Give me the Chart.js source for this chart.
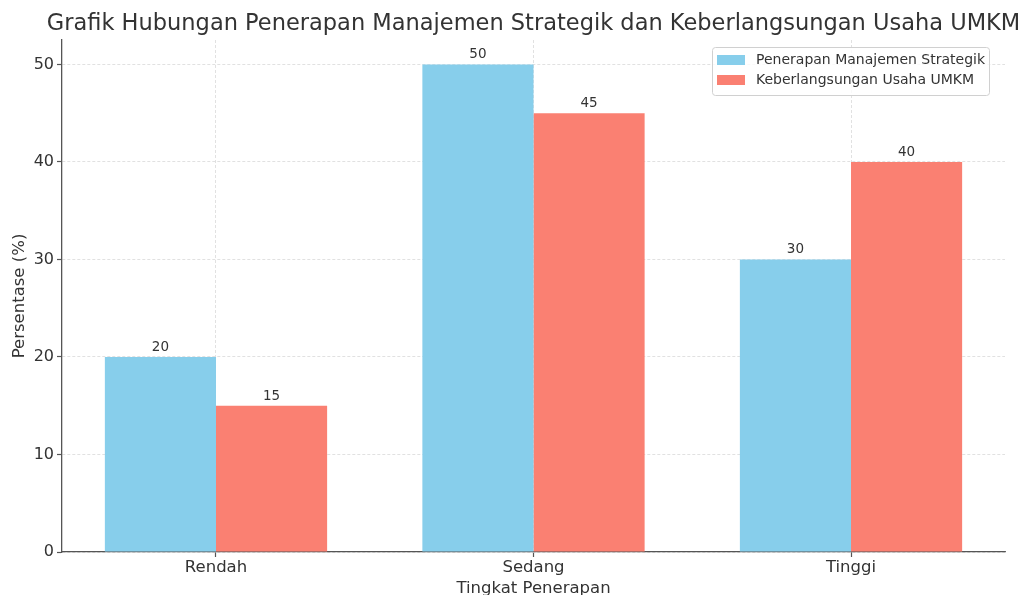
<!DOCTYPE html>
<html>
<head>
<meta charset="utf-8">
<script src="https://cdn.jsdelivr.net/npm/chart.js@4"></script>
<style>
  html, body { margin: 0; padding: 0; background: #fff; }
  #chart { display: block; }
</style>
</head>
<body>
<canvas id="chart" width="1032" height="595"></canvas>
<script>

const chartTitle = "Grafik Hubungan Penerapan Manajemen Strategik dan Keberlangsungan Usaha UMKM";
const xAxisTitle = "Tingkat Penerapan";
const yAxisTitle = "Persentase (%)";

const categories = ["Rendah", "Sedang", "Tinggi"];

const seriesNames = ["Penerapan Manajemen Strategik", "Keberlangsungan Usaha UMKM"];
const penerapanValues = [20, 50, 30];
const keberlangsunganValues = [15, 45, 40];

const yTicks = [0, 10, 20, 30, 40, 50];
const yMax = 52.5;

const seriesColors = ["#87CEEB", "#FA8072"];

const fontFamily = "'DejaVu Sans', sans-serif";
const textColor = "#333333";


const toPoints = (values) => values.map((v, i) => ({ x: i, y: v }));


// title, axis titles, bar labels and the legend box
const decorations = {

    id: "decorations",

    afterDraw(chart) {

        const ctx = chart.ctx;
        const area = chart.chartArea;

        ctx.save();
        ctx.fillStyle = textColor;

        // title
        ctx.font = `22.5px ${fontFamily}`;
        ctx.textAlign = "center";
        ctx.textBaseline = "alphabetic";
        ctx.fillText(chartTitle, (area.left + area.right) / 2, 30);

        // x axis title
        ctx.font = `16.5px ${fontFamily}`;
        ctx.fillText(xAxisTitle, (area.left + area.right) / 2, 593);

        // y axis title
        ctx.save();
        ctx.translate(24, (area.top + area.bottom) / 2);
        ctx.rotate(-Math.PI / 2);
        ctx.fillText(yAxisTitle, 0, 0);
        ctx.restore();

        // bar labels
        ctx.font = `13.5px ${fontFamily}`;
        chart.data.datasets.forEach((dataset, i) => {
            const meta = chart.getDatasetMeta(i);
            meta.data.forEach((bar, j) => {
                ctx.fillText(String(dataset.data[j].y), bar.x, bar.y - 6);
            });
        });

        // legend
        const boxX = 712, boxY = 47, boxW = 277, boxH = 48;
        ctx.beginPath();
        ctx.roundRect(boxX + 0.5, boxY + 0.5, boxW, boxH, 3);
        ctx.fillStyle = "rgba(255,255,255,0.8)";
        ctx.fill();
        ctx.strokeStyle = "#d0d0d0";
        ctx.lineWidth = 1;
        ctx.stroke();

        ctx.font = `14px ${fontFamily}`;
        ctx.textAlign = "left";
        ctx.textBaseline = "middle";
        seriesNames.forEach((name, i) => {
            const rowY = boxY + 13 + i * 20;
            ctx.fillStyle = seriesColors[i];
            ctx.fillRect(717, rowY - 5, 28, 10);
            ctx.fillStyle = textColor;
            ctx.fillText(name, 756, rowY);
        });

        ctx.restore();

    }

};


new Chart(
    document.getElementById("chart"), {
        type: "bar",
        data: {
            datasets: [
                {
                    label: seriesNames[0],
                    data: toPoints(penerapanValues),
                    backgroundColor: seriesColors[0],
                    borderWidth: 0,
                    categoryPercentage: 0.7,
                    barPercentage: 1.0
                },
                {
                    label: seriesNames[1],
                    data: toPoints(keberlangsunganValues),
                    backgroundColor: seriesColors[1],
                    borderWidth: 0,
                    categoryPercentage: 0.7,
                    barPercentage: 1.0
                }
            ]
        },
        options: {
            responsive: false,
            animation: false,
            layout: {
                padding: { top: 40, right: 27, left: 0, bottom: 0 }
            },
            plugins: {
                legend: { display: false },
                title: { display: false },
                tooltip: { enabled: false }
            },
            scales: {
                x: {
                    type: "linear",
                    min: -0.485,
                    max: categories.length - 1 + 0.485,
                    offset: false,
                    grid: {
                        offset: false,
                        color: "#d9d9d9",
                        lineWidth: 0.8,
                        tickColor: "#555555",
                        tickLength: 5,
                        tickWidth: 1.2,
                        tickBorderDash: [0, 0]
                    },
                    border: {
                        color: "#555555",
                        width: 1.3,
                        dash: [3, 2]
                    },
                    ticks: {
                        color: textColor,
                        padding: 1,
                        font: { family: fontFamily, size: 16.5 },
                        callback: (value) => categories[value]
                    },
                    afterBuildTicks: (scale) => {
                        scale.ticks = categories.map((c, i) => ({ value: i }));
                    },
                    afterFit: (scale) => { scale.height = 43; }
                },
                y: {
                    min: 0,
                    max: yMax,
                    grid: {
                        color: "#d9d9d9",
                        lineWidth: 0.8,
                        tickColor: "#555555",
                        tickLength: 5,
                        tickWidth: 1.2,
                        tickBorderDash: [0, 0]
                    },
                    border: {
                        color: "#555555",
                        width: 1.3,
                        dash: [3, 2]
                    },
                    ticks: {
                        color: textColor,
                        padding: 3,
                        font: { family: fontFamily, size: 16 }
                    },
                    afterBuildTicks: (scale) => {
                        scale.ticks = yTicks.map((v) => ({ value: v }));
                    },
                    afterFit: (scale) => { scale.width = 62; }
                }
            }
        },
        plugins: [decorations]
    }
);

</script>
</body>
</html>
